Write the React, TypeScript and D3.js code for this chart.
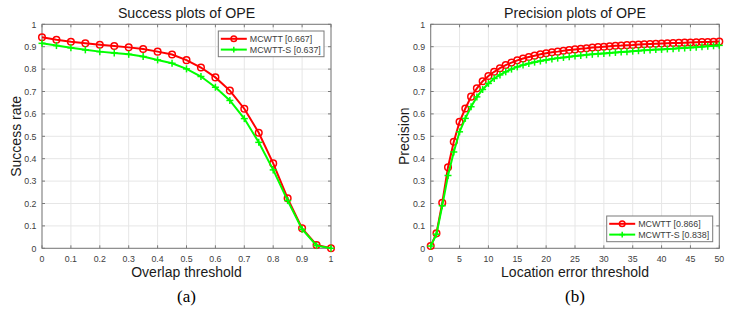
import React from "react";
import * as d3 from "d3";

const overlapX = [0, 0.05, 0.1, 0.15, 0.2, 0.25, 0.3, 0.35, 0.4, 0.45, 0.5, 0.55, 0.6, 0.65, 0.7, 0.75, 0.8, 0.85, 0.9, 0.95, 1];
const successMCWTT = [0.942, 0.931, 0.922, 0.915, 0.909, 0.903, 0.897, 0.89, 0.878, 0.865, 0.84, 0.807, 0.763, 0.704, 0.623, 0.516, 0.379, 0.223, 0.089, 0.015, 0];
const successMCWTTS = [0.915, 0.905, 0.895, 0.886, 0.878, 0.872, 0.866, 0.856, 0.841, 0.826, 0.801, 0.767, 0.719, 0.66, 0.579, 0.473, 0.35, 0.213, 0.085, 0.012, 0];

const locX = d3.range(0, 51);
const precMCWTT = [0.010, 0.067, 0.203, 0.362, 0.476, 0.565, 0.624, 0.677, 0.714, 0.746, 0.769, 0.788, 0.804, 0.818, 0.829, 0.839, 0.847, 0.854, 0.860, 0.866, 0.871, 0.875, 0.878, 0.882, 0.885, 0.888, 0.891, 0.893, 0.896, 0.898, 0.900, 0.902, 0.904, 0.905, 0.907, 0.908, 0.910, 0.911, 0.912, 0.913, 0.914, 0.915, 0.916, 0.917, 0.918, 0.919, 0.920, 0.921, 0.921, 0.922, 0.923];
const precMCWTTS = [0.010, 0.063, 0.190, 0.325, 0.430, 0.520, 0.580, 0.632, 0.676, 0.709, 0.736, 0.758, 0.774, 0.788, 0.800, 0.810, 0.818, 0.825, 0.831, 0.836, 0.841, 0.845, 0.849, 0.852, 0.855, 0.858, 0.861, 0.864, 0.866, 0.868, 0.870, 0.872, 0.874, 0.876, 0.878, 0.880, 0.882, 0.884, 0.885, 0.887, 0.888, 0.890, 0.891, 0.893, 0.894, 0.896, 0.898, 0.900, 0.902, 0.904, 0.906];

const overlapTicks = [0, 0.1, 0.2, 0.3, 0.4, 0.5, 0.6, 0.7, 0.8, 0.9, 1];
const locTicks = [0, 5, 10, 15, 20, 25, 30, 35, 40, 45, 50];
const yTicks = [0, 0.1, 0.2, 0.3, 0.4, 0.5, 0.6, 0.7, 0.8, 0.9, 1];

const legendSuccess = ["MCWTT [0.667]", "MCWTT-S [0.637]"];
const legendPrec = ["MCWTT [0.866]", "MCWTT-S [0.838]"];

const RED = "#ff0000";
const GREEN = "#00ff00";
const AXIS = "#7a7a7a";
const TEXT = "#404040";
const FONT = "Liberation Sans, Arial, Helvetica, sans-serif";

function Marker({ kind, x, y, s = 1 }: { kind: string; x: number; y: number; s?: number }) {
  if (kind === "o") {
    return <circle cx={x} cy={y} r={3.3 * s} fill="none" stroke={RED} strokeWidth={1.5} />;
  }
  return (
    <g stroke={GREEN} strokeWidth={1.5}>
      <line x1={x - 3.5 * s} x2={x + 3.5 * s} y1={y} y2={y} />
      <line x1={x} x2={x} y1={y - 3.5 * s} y2={y + 3.5 * s} />
    </g>
  );
}

function Panel(props: {
  left: number; right: number; xDomain: [number, number]; xs: number[];
  s1: number[]; s2: number[]; xTicks: number[]; xFmt: (v: number) => string;
  title: string; xLabel: string; yLabel: string; legend: string[];
  legendBox: { x: number; y: number; w: number; h: number }; caption: string;
}) {
  const top = 24.3, bottom = 248.3;
  const x = d3.scaleLinear().domain(props.xDomain).range([props.left, props.right]);
  const y = d3.scaleLinear().domain([0, 1]).range([bottom, top]);
  const line = d3.line<number>().x((_, i) => x(props.xs[i])).y((d) => y(d));
  const cx = (props.left + props.right) / 2;
  const lb = props.legendBox;
  const yFmt = (v: number) => (v === 0 ? "0" : v === 1 ? "1" : d3.format(".1f")(v));
  return (
    <g fontFamily={FONT}>
      <rect x={props.left} y={top} width={props.right - props.left} height={bottom - top} fill="white" />
      {props.xTicks.map((t) => (
        <line key={"gx" + t} x1={x(t)} x2={x(t)} y1={top} y2={bottom} stroke="#e6e6e6" strokeWidth={1} />
      ))}
      {yTicks.map((t) => (
        <line key={"gy" + t} x1={props.left} x2={props.right} y1={y(t)} y2={y(t)} stroke="#e6e6e6" strokeWidth={1} />
      ))}
      <rect x={props.left} y={top} width={props.right - props.left} height={bottom - top} fill="none" stroke={AXIS} strokeWidth={1} />
      {props.xTicks.map((t) => (
        <g key={"tx" + t}>
          <line x1={x(t)} x2={x(t)} y1={bottom} y2={bottom - 3} stroke={AXIS} />
          <line x1={x(t)} x2={x(t)} y1={top} y2={top + 3} stroke={AXIS} />
          <text x={x(t)} y={bottom + 13.5} textAnchor="middle" fontSize={8.8} fill={TEXT}>{props.xFmt(t)}</text>
        </g>
      ))}
      {yTicks.map((t) => (
        <g key={"ty" + t}>
          <line x1={props.left} x2={props.left + 3} y1={y(t)} y2={y(t)} stroke={AXIS} />
          <line x1={props.right} x2={props.right - 3} y1={y(t)} y2={y(t)} stroke={AXIS} />
          <text x={props.left - 5.5} y={y(t) + 3.2} textAnchor="end" fontSize={8.8} fill={TEXT}>{yFmt(t)}</text>
        </g>
      ))}
      <path d={line(props.s1) || ""} fill="none" stroke={RED} strokeWidth={2} />
      {props.s1.map((d, i) => <Marker key={"m1" + i} kind="o" x={x(props.xs[i])} y={y(d)} />)}
      <path d={line(props.s2) || ""} fill="none" stroke={GREEN} strokeWidth={2} />
      {props.s2.map((d, i) => <Marker key={"m2" + i} kind="+" x={x(props.xs[i])} y={y(d)} />)}
      <text x={cx} y={18} textAnchor="middle" fontSize={14.2} fill="#1a1a1a">{props.title}</text>
      <text x={cx} y={277} textAnchor="middle" fontSize={14} fill="#1a1a1a">{props.xLabel}</text>
      <text transform={`translate(${props.left - 21.5},${(top + bottom) / 2}) rotate(-90)`} textAnchor="middle" fontSize={14} fill="#1a1a1a">{props.yLabel}</text>
      <text x={cx} y={302} textAnchor="middle" fontSize={17} fontFamily="Liberation Serif, Times New Roman, serif" fill="#000">{props.caption}</text>
      <rect x={lb.x} y={lb.y} width={lb.w} height={lb.h} fill="white" stroke={AXIS} strokeWidth={1} />
      {props.legend.map((s, i) => {
        const ly = lb.y + 7.8 + i * 10.8;
        return (
          <g key={"lg" + i}>
            <line x1={lb.x + 2.5} x2={lb.x + 28.5} y1={ly} y2={ly} stroke={i === 0 ? RED : GREEN} strokeWidth={2} />
            <Marker kind={i === 0 ? "o" : "+"} x={lb.x + 15.5} y={ly} s={0.85} />
            <text x={lb.x + 31.5} y={ly + 3.3} fontSize={8.9} fill={TEXT}>{s}</text>
          </g>
        );
      })}
    </g>
  );
}

export default function App() {
  return (
    <svg width={731} height={317} style={{ position: "absolute", left: 0, top: 0 }}>
      <rect width={731} height={317} fill="white" />
      <Panel left={42} right={331} xDomain={[0, 1]} xs={overlapX} s1={successMCWTT} s2={successMCWTTS}
        xTicks={overlapTicks} xFmt={(v) => (v === 0 || v === 1 ? String(v) : d3.format(".1f")(v))}
        title="Success plots of OPE" xLabel="Overlap threshold" yLabel="Success rate" legend={legendSuccess}
        legendBox={{ x: 218.3, y: 31, w: 105.7, h: 25.7 }} caption="(a)" />
      <Panel left={430.7} right={719.3} xDomain={[0, 50]} xs={locX} s1={precMCWTT} s2={precMCWTTS}
        xTicks={locTicks} xFmt={(v) => String(v)}
        title="Precision plots of OPE" xLabel="Location error threshold" yLabel="Precision" legend={legendPrec}
        legendBox={{ x: 606.7, y: 216, w: 106, h: 25.7 }} caption="(b)" />
    </svg>
  );
}
